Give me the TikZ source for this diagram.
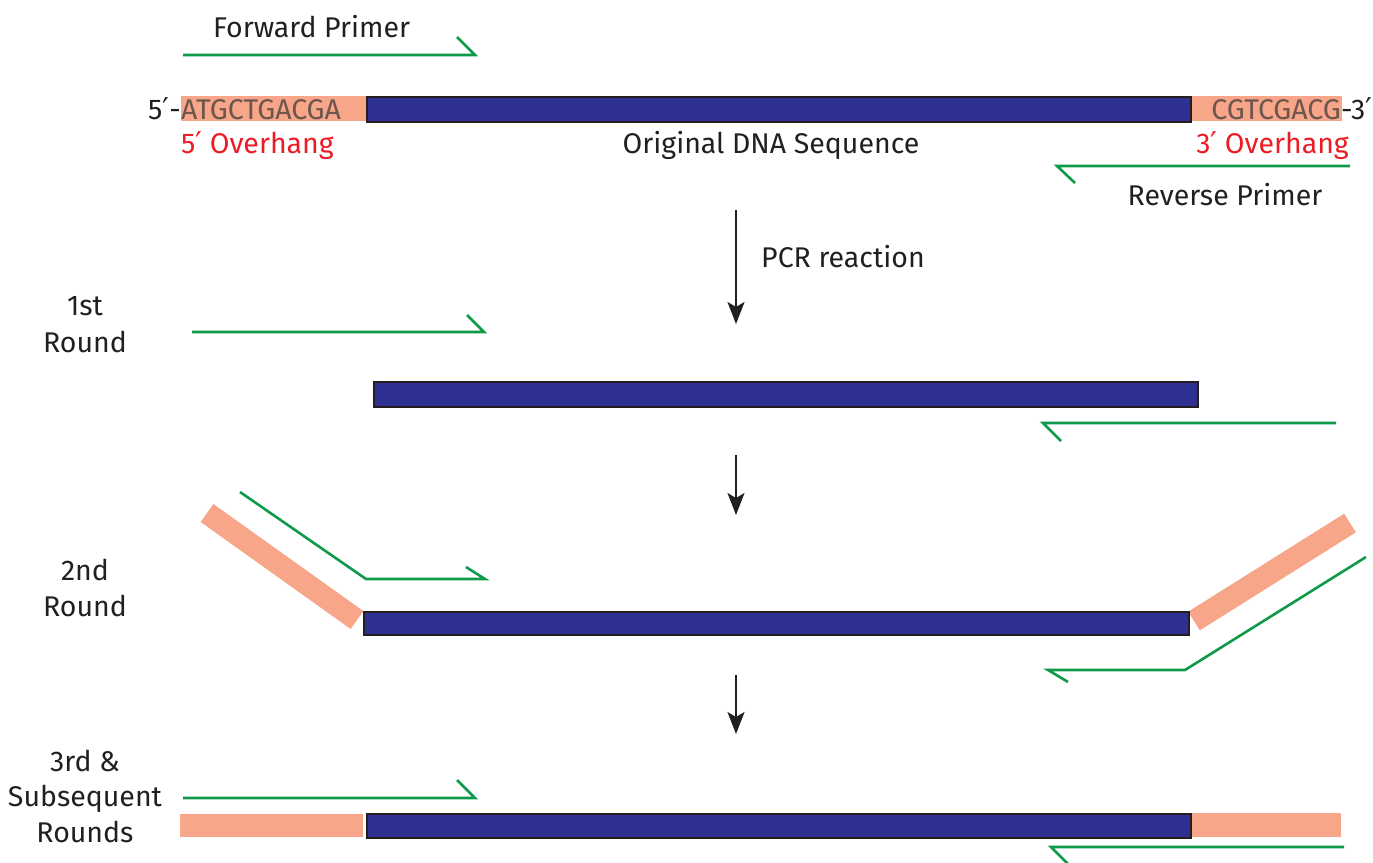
\documentclass[tikz,border=0pt]{standalone}
\usepackage{fontspec}
\setmainfont{Fira Sans}
\newfontfamily\primefont{DejaVu Sans}
\usetikzlibrary{arrows.meta}
\definecolor{dnablue}{HTML}{2E3192}
\definecolor{salmon}{HTML}{F7A68A}
\definecolor{primergreen}{HTML}{0E9A48}
\definecolor{ovred}{HTML}{ED1C24}
\definecolor{txtblack}{HTML}{231F20}
\definecolor{seqtxt}{HTML}{6E564C}
\newcommand{\pr}{{\primefont\fontsize{30}{34}\selectfont ′}}
\tikzset{
  dna/.style={draw=txtblack, line width=2pt, fill=dnablue, inner sep=0pt, anchor=north west},
  over/.style={fill=salmon, draw=none, inner sep=0pt, anchor=north west},
  primer/.style={draw=primergreen, line width=2.6pt, line join=miter},
  band/.style={draw=salmon, line width=22pt},
  lbl/.style={font=\fontsize{28.5}{34}\selectfont, text=txtblack, inner sep=0pt, anchor=base},
  flow/.style={-{Stealth[length=22pt,width=17pt,inset=5pt]}, line width=2pt, draw=txtblack},
}
\begin{document}
\begin{tikzpicture}[x=1pt,y=-1pt]
\useasboundingbox (0,0) rectangle (1373,862);
% ---------- top: original sequence ----------
\node[lbl, anchor=base west] (fwdlbl) at (213,37) {Forward Primer};
\draw[primer] (183,55) -- (475,55) -- (457,37);
\node[over, minimum width=185pt, minimum height=25pt] (ov5) at (181,96) {};
\node[over, minimum width=152pt, minimum height=25pt] (ov3) at (1190,96) {};
\node[dna, minimum width=824pt, minimum height=25pt] (orig) at (366,96) {};
\node[lbl, anchor=base east] (p5) at (181,119) {5\pr-};
\node[lbl, anchor=base west, text=seqtxt] (seq5) at (181,119) {ATGCTGACGA};
\node[lbl, anchor=base east, text=seqtxt] (seq3) at (1341,119) {CGTCGACG};
\node[lbl, anchor=base west] (p3) at (seq3.base east) {-3\pr};
\node[lbl, anchor=base west, text=ovred] (ovl5) at (181,153) {5\pr\ Overhang};
\node[lbl] (origlbl) at (771,153) {Original DNA Sequence};
\node[lbl, anchor=base east, text=ovred] (ovl3) at (1349,153) {3\pr\ Overhang};
\draw[primer] (1350,166) -- (1057,166) -- (1075,183);
\node[lbl] (revlbl) at (1225,205) {Reverse Primer};
% ---------- PCR arrow ----------
\coordinate (a1s) at (736,210);
\coordinate (a1e) at (736,324);
\draw[flow] (a1s) -- (a1e);
\node[lbl, anchor=base west] (pcr) at (761,267) {PCR reaction};
% ---------- 1st round ----------
\node[lbl] (r1a) at (85,315) {1st};
\node[lbl] (r1b) at (85,352) {Round};
\draw[primer] (192,332) -- (484,332) -- (467,315);
\node[dna, minimum width=824pt, minimum height=25pt] (s1) at (373,381) {};
\draw[primer] (1336,423) -- (1043,423) -- (1061,441);
\coordinate (a2s) at (736,455);
\coordinate (a2e) at (736,515);
\draw[flow] (a2s) -- (a2e);
% ---------- 2nd round ----------
\node[lbl] (r2a) at (85,580) {2nd};
\node[lbl] (r2b) at (85,616) {Round};
\draw[band] (207,513) -- (357,620);
\draw[band] (1194,621) -- (1350,523);
\draw[primer] (240,492) -- (366,579) -- (485,579) -- (466,567);
\node[dna, minimum width=825pt, minimum height=23pt] (s2) at (363,611) {};
\draw[primer] (1366,557) -- (1185,670) -- (1048,670) -- (1068,682);
\coordinate (a3s) at (736,675);
\coordinate (a3e) at (736,734);
\draw[flow] (a3s) -- (a3e);
% ---------- 3rd & subsequent ----------
\node[lbl] (r3a) at (85,771) {3rd \&};
\node[lbl] (r3b) at (85,806) {Subsequent};
\node[lbl] (r3c) at (85,842) {Rounds};
\draw[primer] (183,798) -- (475,798) -- (457,780);
\node[over, minimum width=183pt, minimum height=23pt] (ov5b) at (180,814) {};
\node[over, minimum width=151pt, minimum height=24pt] (ov3b) at (1190,813) {};
\node[dna, minimum width=824pt, minimum height=24pt] (s3) at (366,813) {};
\draw[primer] (1344,847) -- (1051,847) -- (1069,865);
\end{tikzpicture}
\end{document}
